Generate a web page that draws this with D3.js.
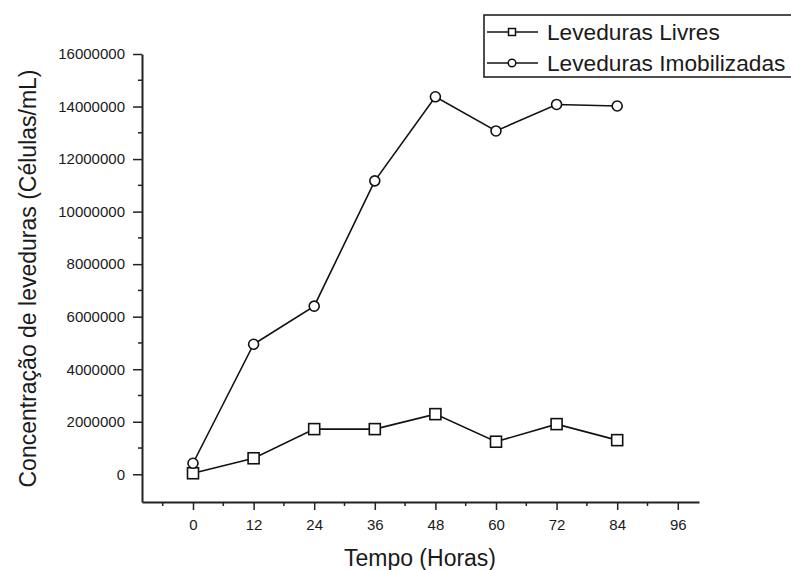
<!DOCTYPE html>
<html>
<head>
<meta charset="utf-8">
<script src="https://cdn.jsdelivr.net/npm/d3@7"></script>
<style>
  body { margin: 0; background: #fff; }
  text { font-family: "Liberation Sans", Arial, sans-serif; fill: #1a1a1a; }
</style>
</head>
<body>
<div id="chart"></div>
<script>
// data
let horas = [0, 12, 24, 36, 48, 60, 72, 84];
let livres = [40000, 610000, 1720000, 1720000, 2290000, 1240000, 1910000, 1300000];
let imobilizadas = [420000, 4950000, 6400000, 11170000, 14370000, 13070000, 14080000, 14020000];
let xTicks = [0, 12, 24, 36, 48, 60, 72, 84, 96];
let yTicks = [0, 2000000, 4000000, 6000000, 8000000, 10000000, 12000000, 14000000, 16000000];
let seriesNames = ['Leveduras Livres', 'Leveduras Imobilizadas'];

let config = { svg: {}, plot: {} };
config.svg.width = 791;
config.svg.height = 570;
config.plot.left = 142;
config.plot.right = 699;
config.plot.top = 54;
config.plot.bottom = 502;

let svg = d3.select('#chart').append('svg')
  .attr('width', config.svg.width)
  .attr('height', config.svg.height);

let x = d3.scaleLinear().domain([-10.1, 100.2]).range([config.plot.left, config.plot.right]);
let y = d3.scaleLinear().domain([-1055000, 16000000]).range([config.plot.bottom, config.plot.top]);

// minor ticks
let xMinor = d3.range(-6, 100, 12);
let yMinor = d3.range(1000000, 16000000, 2000000);

let axisColor = '#222';

// x axis
let xAxis = svg.append('g')
  .attr('transform', 'translate(0,' + config.plot.bottom + ')')
  .call(d3.axisBottom(x).tickValues(xTicks).tickSize(8).tickPadding(5).tickSizeOuter(0));
xAxis.append('g').selectAll('line')
  .data(xMinor).enter().append('line')
  .attr('x1', d => x(d)).attr('x2', d => x(d))
  .attr('y1', 0).attr('y2', 4)
  .attr('stroke', axisColor).attr('stroke-width', 1.5);

// y axis
let yAxis = svg.append('g')
  .attr('transform', 'translate(' + config.plot.left + ',0)')
  .call(d3.axisLeft(y).tickValues(yTicks).tickFormat(d3.format('d')).tickSize(9).tickPadding(8).tickSizeOuter(0));
yAxis.append('g').selectAll('line')
  .data(yMinor).enter().append('line')
  .attr('y1', d => y(d)).attr('y2', d => y(d))
  .attr('x1', 0).attr('x2', -4)
  .attr('stroke', axisColor).attr('stroke-width', 1.5);

svg.selectAll('.domain').attr('stroke', axisColor).attr('stroke-width', 2);
svg.selectAll('.tick line').attr('stroke', axisColor).attr('stroke-width', 1.5);
svg.selectAll('.tick text').style('font-size', '15px').attr('fill', '#1a1a1a');
xAxis.selectAll('.tick text').attr('dy', '1em');

// axis titles
svg.append('text')
  .attr('x', 420)
  .attr('y', 566)
  .attr('text-anchor', 'middle')
  .style('font-size', '23px')
  .text('Tempo (Horas)');

svg.append('text')
  .attr('transform', 'translate(36,' + 278.5 + ') rotate(-90)')
  .attr('text-anchor', 'middle')
  .style('font-size', '23px')
  .text('Concentração de leveduras (Células/mL)');

// lines
let line = d3.line()
  .x((d, i) => x(horas[i]))
  .y(d => y(d));

svg.append('path')
  .datum(livres)
  .attr('d', line)
  .attr('fill', 'none')
  .attr('stroke', '#111')
  .attr('stroke-width', 1.6);

svg.append('path')
  .datum(imobilizadas)
  .attr('d', line)
  .attr('fill', 'none')
  .attr('stroke', '#111')
  .attr('stroke-width', 1.6);

// markers
svg.selectAll('.sq')
  .data(livres).enter().append('rect')
  .attr('class', 'sq')
  .attr('x', (d, i) => x(horas[i]) - 5.5)
  .attr('y', d => y(d) - 5.5)
  .attr('width', 11).attr('height', 11)
  .attr('fill', '#fff').attr('stroke', '#111').attr('stroke-width', 1.6);

svg.selectAll('.ci')
  .data(imobilizadas).enter().append('circle')
  .attr('class', 'ci')
  .attr('cx', (d, i) => x(horas[i]))
  .attr('cy', d => y(d))
  .attr('r', 5)
  .attr('fill', '#fff').attr('stroke', '#111').attr('stroke-width', 1.6);

// legend
let legend = svg.append('g');
legend.append('rect')
  .attr('x', 484).attr('y', 15)
  .attr('width', 320).attr('height', 62)
  .attr('fill', '#fff').attr('stroke', '#222').attr('stroke-width', 1.6);

let rows = [32, 63];
seriesNames.forEach(function(name, i) {
  let g = legend.append('g').attr('transform', 'translate(0,' + rows[i] + ')');
  g.append('line')
    .attr('x1', 487).attr('x2', 538).attr('y1', 0).attr('y2', 0)
    .attr('stroke', '#111').attr('stroke-width', 1.6);
  if (i === 0) {
    g.append('rect').attr('x', 508.5).attr('y', -3.5).attr('width', 7).attr('height', 7)
      .attr('fill', '#fff').attr('stroke', '#111').attr('stroke-width', 1.5);
  } else {
    g.append('circle').attr('cx', 512).attr('cy', 0).attr('r', 3.8)
      .attr('fill', '#fff').attr('stroke', '#111').attr('stroke-width', 1.5);
  }
  g.append('text')
    .attr('x', 547).attr('y', 0).attr('dy', '0.35em')
    .style('font-size', '22.7px')
    .text(name);
});
</script>
</body>
</html>
